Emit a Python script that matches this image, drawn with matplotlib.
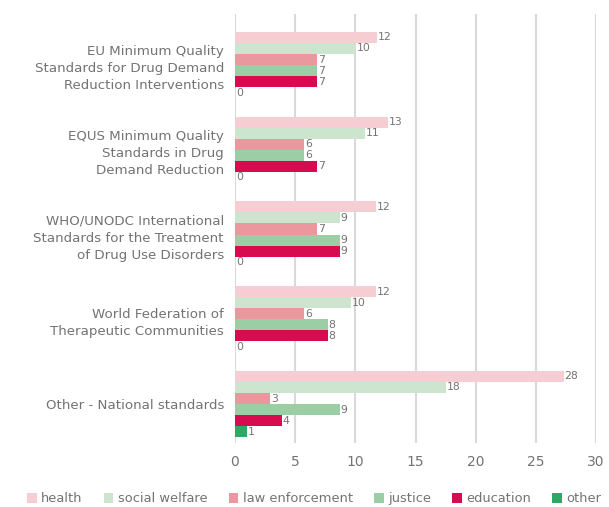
import matplotlib.pyplot as plt
import numpy as np

plt.rcParams['font.family'] = ['DejaVu Sans']

categories = ["EU Minimum Quality\nStandards for Drug Demand\nReduction Interventions",
              "EQUS Minimum Quality\nStandards in Drug\nDemand Reduction",
              "WHO/UNODC International\nStandards for the Treatment\nof Drug Use Disorders",
              "World Federation of\nTherapeutic Communities",
              "Other - National standards"]

series = ["health", "social welfare", "law enforcement", "justice", "education", "other"]

# bar lengths
health = [11.8, 12.7, 11.7, 11.7, 27.3]
social_welfare = [10.0, 10.8, 8.7, 9.6, 17.5]
law_enforcement = [6.8, 5.75, 6.8, 5.75, 2.9]
justice = [6.8, 5.75, 8.7, 7.7, 8.7]
education = [6.8, 6.8, 8.7, 7.7, 3.9]
other = [0, 0, 0, 0, 1.0]

# printed labels
health_lbl = [12, 13, 12, 12, 28]
social_welfare_lbl = [10, 11, 9, 10, 18]
law_enforcement_lbl = [7, 6, 7, 6, 3]
justice_lbl = [7, 6, 9, 8, 9]
education_lbl = [7, 7, 9, 8, 4]
other_lbl = [0, 0, 0, 0, 1]

values = [health, social_welfare, law_enforcement, justice, education, other]
labels = [health_lbl, social_welfare_lbl, law_enforcement_lbl, justice_lbl, education_lbl, other_lbl]
colors = ['#F5CDD2', '#CDE4CF', '#EA989E', '#9BCEA4', '#D80A50', '#2AAA64']

txt = '#737373'
grid = '#d9d9d9'

fig = plt.figure(figsize=(6.09, 5.07), dpi=100)
ax = fig.add_axes([235/609, 1-443/507, 361/609, 429/507])

y = np.arange(len(categories))
h = 0.13
for k in range(len(series)):
    pos = y + (k - 2.5) * h
    ax.barh(pos, values[k], height=h, color=colors[k], label=series[k], zorder=3)
    for p, v, l in zip(pos, values[k], labels[k]):
        ax.text(v + 0.08, p, str(l), va='center', ha='left', fontsize=7.8, color=txt, zorder=4)

ax.set_xlim(0, 30)
ax.set_ylim(4.46, -0.602)
ax.set_xticks(range(0, 31, 5))
ax.set_yticks(y)
ax.set_yticklabels(categories, fontsize=9.6, color=txt, linespacing=1.4)
ax.tick_params(axis='x', colors=txt, labelsize=10, length=0, pad=9)
ax.tick_params(axis='y', length=0, pad=8)
ax.grid(axis='x', color=grid, linewidth=1.5, zorder=0)
for s in ax.spines.values():
    s.set_visible(False)

leg = fig.legend(loc='lower center', bbox_to_anchor=(0.516, -0.02), ncol=6, frameon=False,
                 fontsize=9.4, handlelength=0.75, handleheight=0.75, handletextpad=0.35,
                 columnspacing=1.6, labelcolor=txt)

fig.savefig('out.png', dpi=100)
